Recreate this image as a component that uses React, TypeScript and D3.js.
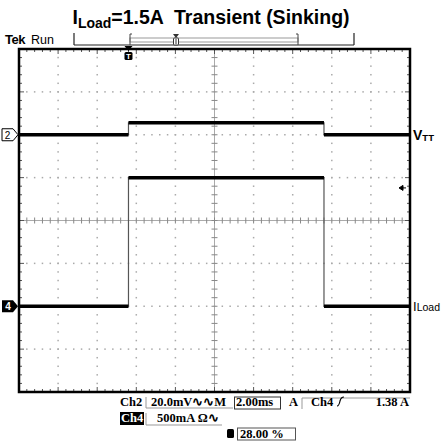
import React from "react";
import * as d3 from "d3";

// Time axis (ms) and channel data
const timeMs = [-5.6, 0, 0, 10, 10, 14.4];
const ch2mV = [0, 0, 5.6, 5.6, 0, 0];
const ch4A = [0, 0, 1.5, 1.5, 0, 0];

const ch2Scale = 20; // mV/div
const ch4Scale = 0.5; // A/div
const ch2Offset = 2; // div
const ch4Offset = -2; // div

const bottomRow1 = ["Ch2", "20.0mV∿∿M", "2.00ms", "A", "Ch4", "1.38 A"];

const L = 19, R = 410, T = 49, B = 392;

export default function App() {
  const x = d3.scaleLinear().domain([-5.6, 14.4]).range([L, R]);
  const y = d3.scaleLinear().domain([-4, 4]).range([B, T]);
  const xd = d3.scaleLinear().domain([0, 10]).range([L, R]);

  const gridDots: JSX.Element[] = [];
  for (let i = 1; i < 10; i++) {
    if (i === 5) continue;
    for (let k = 0; k <= 40; k++) {
      const yy = y(-4 + k * 0.2);
      gridDots.push(<rect key={`v${i}-${k}`} x={xd(i) - 0.75} y={yy - 0.75} width={1.5} height={1.5} fill="#aaa" />);
    }
  }
  for (let j = -3; j <= 3; j++) {
    if (j === 0) continue;
    for (let k = 0; k <= 50; k++) {
      const xx = xd(k * 0.2);
      gridDots.push(<rect key={`h${j}-${k}`} x={xx - 0.75} y={y(j) - 0.75} width={1.5} height={1.5} fill="#aaa" />);
    }
  }

  const ticks: JSX.Element[] = [];
  for (let k = 1; k < 50; k++) {
    const xx = xd(k * 0.2);
    const len = k % 5 === 0 ? 5 : 3;
    ticks.push(<line key={`tt${k}`} x1={xx} x2={xx} y1={T} y2={T + len} stroke="#555" strokeWidth={1} />);
    ticks.push(<line key={`tb${k}`} x1={xx} x2={xx} y1={B} y2={B - len} stroke="#555" strokeWidth={1} />);
    ticks.push(<line key={`tc${k}`} x1={xx} x2={xx} y1={y(0) - 3} y2={y(0) + 3} stroke="#888" strokeWidth={1} />);
  }
  for (let k = 1; k < 40; k++) {
    const yy = y(-4 + k * 0.2);
    const len = k % 5 === 0 ? 5 : 3;
    ticks.push(<line key={`tl${k}`} x1={L} x2={L + len} y1={yy} y2={yy} stroke="#555" strokeWidth={1} />);
    ticks.push(<line key={`tr${k}`} x1={R} x2={R - len} y1={yy} y2={yy} stroke="#555" strokeWidth={1} />);
    ticks.push(<line key={`tcv${k}`} x1={xd(5) - 3} x2={xd(5) + 3} y1={yy} y2={yy} stroke="#888" strokeWidth={1} />);
  }

  const trace = (vals: number[], scale: number, off: number) => {
    const pts = timeMs.map((t, i) => [x(t), y(vals[i] / scale + off)] as [number, number]);
    const line = d3.line();
    const thin = line(pts) || "";
    const segs: string[] = [];
    for (let i = 0; i < pts.length - 1; i++) {
      if (vals[i] === vals[i + 1]) segs.push(line([pts[i], pts[i + 1]]) || "");
    }
    return { thin, segs };
  };
  const c2 = trace(ch2mV, ch2Scale, ch2Offset);
  const c4 = trace(ch4A, ch4Scale, ch4Offset);

  const trigX = x(0);
  const trigLevelY = y(1.38 / ch4Scale + ch4Offset);
  const font = "'Liberation Sans', Arial, sans-serif";

  return (
    <svg width={444} height={441} style={{ position: "fixed", left: 0, top: 0, background: "#fff" }} fontFamily={font}>
      {/* Title */}
      <text x={211} y={24} textAnchor="middle" fontSize={19.5} fontWeight="bold" fill="#000" style={{ whiteSpace: "pre" }}>
        I<tspan fontSize={14} dy={4}>Load</tspan><tspan dy={-4}>{"=1.5A  Transient (Sinking)"}</tspan>
      </text>
      {/* Tek Run */}
      <text x={5} y={44} fontSize={13} fill="#000" fontWeight="bold" letterSpacing={-0.5}>Tek</text>
      <text x={31} y={44} fontSize={12.5} fill="#000">Run</text>
      {/* top record bar */}
      <line x1={74} x2={354} y1={45} y2={45} stroke="#222" strokeWidth={1.2} />
      <line x1={74} x2={74} y1={33} y2={45} stroke="#222" strokeWidth={1.2} />
      <line x1={354} x2={354} y1={33} y2={45} stroke="#222" strokeWidth={1.2} />
      <rect x={130} y={38} width={168} height={4} fill="none" stroke="#999" strokeWidth={1} />
      <path d="M132,34 L130,34 L130,45 M296,34 L298,34 L298,45" fill="none" stroke="#444" strokeWidth={1} />
      <path d={`M173,34 L179,34 L176,38 Z`} fill="#333" />
      <rect x={173.5} y={38} width={5} height={7} rx={1} fill="#fff" stroke="#333" strokeWidth={1} />
      <line x1={176} x2={176} y1={39} y2={44} stroke="#333" strokeWidth={1} />

      {/* grid */}
      {gridDots}
      <line x1={L} x2={R} y1={y(0)} y2={y(0)} stroke="#aaa" strokeWidth={1} />
      <line x1={xd(5)} x2={xd(5)} y1={T} y2={B} stroke="#aaa" strokeWidth={1} />
      {ticks}

      {/* traces */}
      <path d={c4.thin} fill="none" stroke="#555" strokeWidth={1.2} />
      <path d={c2.thin} fill="none" stroke="#555" strokeWidth={1.2} />
      {c4.segs.map((d, i) => <path key={`c4${i}`} d={d} fill="none" stroke="#000" strokeWidth={3.5} />)}
      {c2.segs.map((d, i) => <path key={`c2${i}`} d={d} fill="none" stroke="#000" strokeWidth={3.5} />)}

      {/* border */}
      <rect x={L} y={T} width={R - L} height={B - T} fill="none" stroke="#000" strokeWidth={2.5} />

      {/* trigger position marker */}
      <path d={`M${trigX - 4},${T - 3} L${trigX + 4},${T - 3} L${trigX},${T + 2} Z`} fill="#000" />
      <rect x={trigX - 4} y={T + 3} width={8} height={8} rx={1.5} fill="#000" />
      <text x={trigX} y={T + 10} textAnchor="middle" fontSize={8} fontWeight="bold" fill="#fff">T</text>

      {/* channel markers */}
      <path d={`M2,${y(2) - 6} L13,${y(2) - 6} L18,${y(2)} L13,${y(2) + 6} L2,${y(2) + 6} Z`} fill="#fff" stroke="#000" strokeWidth={1} />
      <text x={7.5} y={y(2) + 4} textAnchor="middle" fontSize={10} fill="#000">2</text>
      <path d={`M2,${y(-2) - 6} L13,${y(-2) - 6} L18,${y(-2)} L13,${y(-2) + 6} L2,${y(-2) + 6} Z`} fill="#000" />
      <text x={8} y={y(-2) + 4} textAnchor="middle" fontSize={10} fontWeight="bold" fill="#fff">4</text>

      {/* trigger level arrow */}
      <path d={`M399,${trigLevelY} L403,${trigLevelY - 2.5} L403,${trigLevelY + 2.5} Z M403,${trigLevelY} L406,${trigLevelY}`} fill="#000" stroke="#000" strokeWidth={1} />

      {/* right labels */}
      <text x={413} y={y(2) + 5} fontSize={14} fontWeight="bold" fill="#000">V<tspan fontSize={9.5} dy={1}>TT</tspan></text>
      <text x={413} y={y(-2) + 5} fontSize={13} fill="#000">I<tspan fontSize={10.5} dy={0}>Load</tspan></text>

      {/* bottom readouts */}
      <g fontSize={12.5} fill="#000" fontFamily="'Liberation Serif', 'DejaVu Serif', serif" fontWeight={600}>
        <text x={120} y={406}>{bottomRow1[0]}</text>
        <path d="M146,397 L146,408 L233,408" fill="none" stroke="#999" strokeWidth={1} />
        <text x={151} y={406}>{bottomRow1[1]}</text>
        <rect x={234.5} y={397} width={46} height={12} fill="none" stroke="#333" strokeWidth={1} />
        <text x={236} y={406}>{bottomRow1[2]}</text>
        <text x={289} y={406}>{bottomRow1[3]}</text>
        <path d="M302,409 L302,398 L410,398" fill="none" stroke="#999" strokeWidth={1} />
        <text x={311} y={406}>{bottomRow1[4]}</text>
        <path d="M337,406 Q339,406 340,401 Q341,397 344,397" fill="none" stroke="#000" strokeWidth={1.2} />
        <text x={409} y={406} textAnchor="end">{bottomRow1[5]}</text>

        <rect x={120} y={412} width={24} height={13} fill="#000" />
        <text x={121} y={422} fill="#fff">Ch4</text>
        <path d="M146,413 L146,425 L222,425" fill="none" stroke="#999" strokeWidth={1} />
        <text x={157} y={422}>500mA Ω∿</text>

        <rect x={227} y={429} width={7} height={9} rx={1.5} fill="#000" />
        <rect x={237.5} y={428} width={58} height={12} fill="none" stroke="#555" strokeWidth={1} />
        <text x={240} y={438}>28.00 %</text>
      </g>
    </svg>
  );
}
